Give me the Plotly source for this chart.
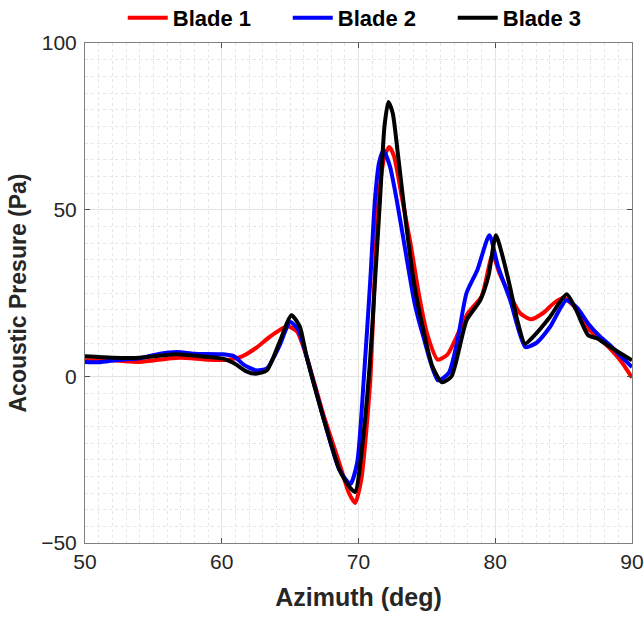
import plotly.graph_objects as go

az1 = [50, 52, 54, 56, 57, 59, 60.5, 61.5, 62.5, 63.5, 64.8, 65.5, 66.2, 67.4, 68.6, 69.3, 69.75, 70.2, 70.85, 71.45, 71.9, 72.25, 72.6, 73.2, 73.8, 74.4, 75.0, 75.8, 76.5, 77.3, 78.0, 79.0, 79.8, 80.3, 81.0, 81.8, 82.6, 83.5, 84.3, 85.0, 86.0, 86.8, 87.7, 88.4, 89.2, 90]
p1 = [4.8, 4.8, 4.3, 5.3, 5.6, 5.0, 5.0, 6.0, 8.5, 11.8, 15.0, 13.5, 6, -11, -26, -35, -38, -31, -2, 52.8, 66, 68.8, 66, 53, 40, 25, 13, 5, 6.5, 13, 19, 24, 36.5, 31, 25, 19, 17.1, 19, 22, 23.6, 20, 14.3, 11, 8.3, 4.5, -0.4]

az2 = [50, 51, 52.5, 54, 55.5, 56.7, 58, 60.1, 60.9, 61.6, 62.5, 63.3, 64.2, 65.0, 65.6, 66.2, 67.4, 68.6, 69.4, 69.9, 70.4, 70.85, 71.2, 71.5, 71.82, 72.3, 72.8, 73.5, 74.1, 74.75, 75.8, 76.6, 77.2, 77.9, 78.7, 79.57, 80.2, 81.1, 82.2, 83.0, 84.0, 85.2, 86.0, 86.8, 87.7, 88.4, 89.2, 90]
p2 = [4.3, 4.2, 5.0, 5.4, 6.8, 7.3, 6.8, 6.6, 6.0, 3.5, 1.8, 2.4, 9, 16.3, 14, 6, -12, -28, -32.3, -26, 0, 28, 52.8, 64, 67.8, 63, 52.8, 36, 22, 11.8, -1.2, 1, 10, 25, 32, 42.3, 33, 22.8, 8.8, 10, 14.8, 22.8, 20.5, 15.8, 11.8, 9.3, 6, 2.8]

az3 = [50, 52, 54, 56.7, 58.5, 60.1, 60.9, 61.8, 62.5, 63.3, 64.2, 65.1, 65.7, 66.2, 67.4, 68.6, 69.3, 69.75, 70.3, 70.85, 71.2, 71.57, 71.9, 72.18, 72.5, 72.9, 73.5, 74.1, 74.75, 75.4, 76.1, 76.8, 77.9, 78.9, 79.5, 80.05, 80.6, 81.08, 81.6, 82.17, 82.8, 84.0, 85.22, 85.9, 86.8, 87.5, 88.4, 89.6, 90]
p3 = [6, 5.6, 5.6, 6.6, 6, 5.3, 3.9, 1.5, 0.8, 1.8, 10, 18.3, 15, 6, -12, -28, -33, -34.7, -20, 5, 28, 52.8, 75, 82.3, 79, 66, 45, 27, 13.8, 3, -1.8, 0, 16.8, 22.8, 30, 42.3, 35, 26.8, 17, 9.8, 12, 17.8, 24.6, 20, 12.3, 11.3, 8.8, 5.8, 4.8]

names = ["Blade 1", "Blade 2", "Blade 3"]
colors = ["#ff0000", "#0000ff", "#000000"]
x_ticks = [50, 60, 70, 80, 90]
y_ticks = [-50, 0, 50, 100]

fig = go.Figure()
for az, p, n, c in zip([az1, az2, az3], [p1, p2, p3], names, colors):
    fig.add_trace(go.Scatter(x=az, y=p, mode="lines", name=n,
                             line=dict(color=c, width=4, shape="spline", smoothing=0.6)))

font = "Liberation Sans"
axis_common = dict(
    showline=True, linecolor="#7f7f7f", linewidth=1, mirror="ticks",
    ticks="inside", ticklen=5, tickcolor="#4d4d4d",
    showgrid=True, gridcolor="#e3e3e3", gridwidth=1,
    zeroline=False, automargin=False,
    tickfont=dict(family=font, size=21, color="#262626"),
)
fig.update_xaxes(range=[50, 90], tickvals=x_ticks,
                 title=dict(text="<b>Azimuth (deg)</b>", font=dict(family=font, size=25, color="#262626"), standoff=16),
                 minor=dict(dtick=1, showgrid=True, gridcolor="#e6e6e6", griddash="dot", ticks=""),
                 **axis_common)
fig.update_yaxes(range=[-50, 100], tickvals=y_ticks, ticklabelstandoff=3,
                 title=dict(text="<b>Acoustic Presure (Pa)</b>", font=dict(family=font, size=23, color="#262626"), standoff=8),
                 minor=dict(dtick=5, showgrid=True, gridcolor="#e6e6e6", griddash="dot", ticks=""),
                 **axis_common)

fig.update_layout(
    width=644, height=620,
    margin=dict(l=85, r=12, t=43, b=77, autoexpand=False),
    plot_bgcolor="white", paper_bgcolor="white",
    font=dict(family=font),
    legend=dict(orientation="h", x=0.069, xanchor="left", y=1.05, yanchor="middle",
                font=dict(family=font, size=22, color="#000000", weight="bold"),
                itemwidth=40, entrywidth=110, bgcolor="rgba(0,0,0,0)",
                tracegroupgap=0),
    showlegend=True,
)

fig.write_html("out.html")
